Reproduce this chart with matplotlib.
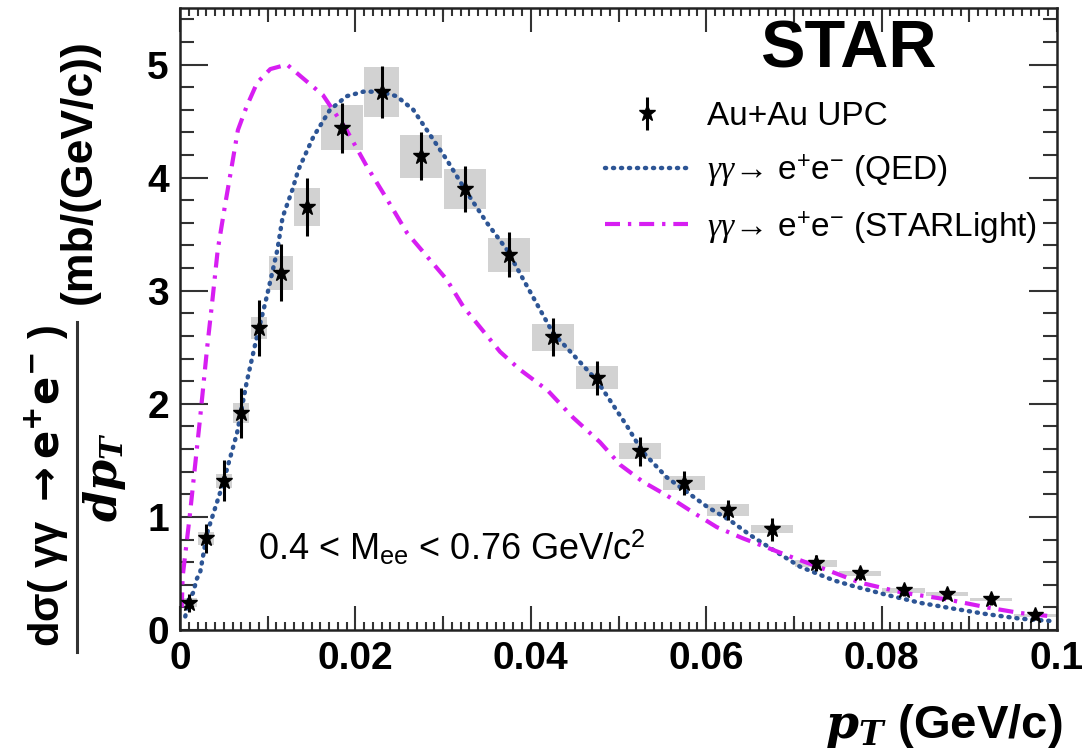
import matplotlib
matplotlib.use("Agg")
import matplotlib.pyplot as plt
from matplotlib.ticker import MultipleLocator, FixedLocator, NullFormatter
from matplotlib.lines import Line2D
import numpy as np

plt.rcParams['font.family'] = ['Liberation Sans', 'DejaVu Sans']
plt.rcParams['mathtext.fontset'] = 'custom'
plt.rcParams['mathtext.rm'] = 'Liberation Sans'
plt.rcParams['mathtext.it'] = 'Liberation Serif:italic'
plt.rcParams['mathtext.bf'] = 'Liberation Sans:bold'

# ---- data ----
pt_data = [0.001, 0.003, 0.005, 0.007, 0.009, 0.0115, 0.0145, 0.0185, 0.023,
           0.0275, 0.0325, 0.0375, 0.0425, 0.0475, 0.0525, 0.0575, 0.0625,
           0.0675, 0.0725, 0.0775, 0.0825, 0.0875, 0.0925, 0.0975]
xs_data = [0.24, 0.81, 1.32, 1.92, 2.67, 3.16, 3.74, 4.44, 4.76, 4.19, 3.90,
           3.32, 2.59, 2.23, 1.58, 1.30, 1.06, 0.89, 0.59, 0.50, 0.35, 0.32,
           0.27, 0.13]
stat_err = [0.08, 0.13, 0.18, 0.22, 0.25, 0.25, 0.26, 0.22, 0.23, 0.21, 0.20,
            0.20, 0.17, 0.15, 0.13, 0.11, 0.09, 0.10, 0.07, 0.06, 0.05, 0.05,
            0.05, 0.04]
sys_err = [0.04, 0.06, 0.06, 0.09, 0.10, 0.15, 0.17, 0.20, 0.22, 0.19, 0.18,
           0.15, 0.12, 0.10, 0.07, 0.06, 0.05, 0.035, 0.03, 0.02, 0.02, 0.02,
           0.015, 0.015]
box_halfwidth = [0.0009, 0.0009, 0.0009, 0.0009, 0.0009, 0.0014, 0.0015,
                 0.0024, 0.002, 0.0024, 0.0024, 0.0024, 0.0024, 0.0024, 0.0024,
                 0.0024, 0.0024, 0.0024, 0.0024, 0.0024, 0.0024, 0.0024,
                 0.0024, 0.0024]

qed_pt = [0.0006, 0.0010, 0.0015, 0.0019, 0.0023, 0.0031, 0.0048, 0.0065,
          0.0076, 0.0087, 0.0099, 0.0111, 0.0117, 0.0128, 0.0135, 0.0152,
          0.0171, 0.0190, 0.0209, 0.0228, 0.0247, 0.0266, 0.0285, 0.0304,
          0.0327, 0.0350, 0.0373, 0.0390, 0.0425, 0.0475, 0.0510, 0.0527,
          0.0555, 0.0578, 0.0601, 0.0627, 0.0650, 0.0676, 0.0707, 0.0745,
          0.0767, 0.0806, 0.0844, 0.0881, 0.0920, 0.0958, 0.0992]
qed_xs = [0.12, 0.27, 0.33, 0.45, 0.51, 0.86, 1.27, 1.74, 2.19, 2.57, 2.95,
          3.36, 3.65, 3.89, 4.07, 4.36, 4.60, 4.72, 4.76, 4.76, 4.72, 4.60,
          4.38, 4.16, 3.87, 3.60, 3.36, 3.12, 2.63, 2.21, 1.80, 1.58, 1.35,
          1.22, 1.09, 0.97, 0.84, 0.71, 0.56, 0.44, 0.39, 0.31, 0.24, 0.19,
          0.14, 0.10, 0.08]

sl_pt = [0.0002, 0.0003, 0.0011, 0.0017, 0.0023, 0.0031, 0.0037, 0.0043,
         0.0051, 0.0059, 0.0066, 0.0076, 0.0088, 0.0103, 0.0122, 0.0137,
         0.0163, 0.0190, 0.0213, 0.0236, 0.0259, 0.0282, 0.0304, 0.0323,
         0.0365, 0.0388, 0.0419, 0.0448, 0.0479, 0.0502, 0.0528, 0.0555,
         0.0585, 0.0612, 0.0642, 0.0669, 0.0699, 0.0738, 0.0775, 0.0824,
         0.0875, 0.0920, 0.0958, 0.0995]
sl_xs = [0.20, 0.47, 1.00, 1.44, 1.88, 2.50, 2.92, 3.36, 3.74, 4.10, 4.42,
         4.63, 4.84, 4.96, 5.00, 4.90, 4.73, 4.42, 4.10, 3.81, 3.51, 3.30,
         3.10, 2.86, 2.46, 2.30, 2.12, 1.88, 1.66, 1.46, 1.31, 1.19, 1.04,
         0.91, 0.81, 0.73, 0.64, 0.53, 0.42, 0.33, 0.27, 0.20, 0.15, 0.12]

x_ticks = [0, 0.02, 0.04, 0.06, 0.08, 0.1]
x_ticklabels = ['0', '0.02', '0.04', '0.06', '0.08', '0.1']
x_midticks = [0.01, 0.03, 0.05, 0.07, 0.09]
y_ticks = [0, 1, 2, 3, 4, 5]
y_ticklabels = ['0', '1', '2', '3', '4', '5']

W, H = 1092, 749
fig = plt.figure(figsize=(W / 100, H / 100), dpi=100)
ax = fig.add_axes([180 / W, 1 - 630 / H, 877 / W, 622 / H])

# systematic boxes
bottoms = np.array(xs_data) - np.array(sys_err)
ax.bar(pt_data, 2 * np.array(sys_err), width=2 * np.array(box_halfwidth),
       bottom=bottoms, color='#d2d2d2', edgecolor='none', zorder=1)

# curves
ax.plot(qed_pt, qed_xs, color='#2d5595', lw=3.2, ls=(0, (0.25, 1.55)),
        dash_capstyle='round', zorder=2,
        label=r'$\gamma\gamma\!\rightarrow\!$ e$^{+}$e$^{-}$ (QED)')
ax.plot(sl_pt, sl_xs, color='#d71ef2', lw=3.0, ls=(0, (3.6, 1.9, 0.8, 1.9)),
        zorder=2,
        label=r'$\gamma\gamma\!\rightarrow\!$ e$^{+}$e$^{-}$ (STARLight)')

# data
eb = ax.errorbar(pt_data, xs_data, yerr=stat_err, fmt='*', color='black',
                 ms=12, elinewidth=2.2, capsize=0, zorder=3,
                 label='Au+Au UPC')

ax.set_xlim(0, 0.1)
ax.set_ylim(0, 5.5)
ax.set_xticks(x_ticks)
ax.set_xticklabels(x_ticklabels)
ax.set_yticks(y_ticks)
ax.set_yticklabels(y_ticklabels)
ax.xaxis.set_minor_locator(MultipleLocator(0.001))
ax.yaxis.set_minor_locator(MultipleLocator(0.2))
ax.tick_params(axis='both', which='both', direction='in', top=True, right=True,
               width=1.5, color='#333333')
ax.tick_params(axis='x', which='major', length=17, pad=8)
ax.tick_params(axis='x', which='minor', length=6)
ax.tick_params(axis='y', which='major', length=20, pad=8)
ax.tick_params(axis='y', which='minor', length=10)
for lab in ax.get_xticklabels() + ax.get_yticklabels():
    lab.set_fontweight('bold')
    lab.set_fontsize(28)
for s in ax.spines.values():
    s.set_linewidth(1.8)
    s.set_color('#222222')

# medium ticks at odd 0.01 positions (bottom and top)
for loc in ('bottom', 'top'):
    sec = ax.secondary_xaxis(loc)
    sec.xaxis.set_major_locator(FixedLocator(x_midticks))
    sec.xaxis.set_major_formatter(NullFormatter())
    sec.xaxis.set_minor_locator(FixedLocator([]))
    sec.tick_params(axis='x', which='major', direction='in', length=10,
                    width=1.5, color='#333333')
    for s in sec.spines.values():
        s.set_visible(False)

# STAR label
fig.text(848 / W, 1 - 51 / H, 'STAR', fontsize=48, fontweight='bold',
         ha='center', va='center')

# annotation
fig.text(258 / W, 1 - 560 / H, r'0.4 < M$_{\mathrm{ee}}$ < 0.76 GeV/c$^{2}$',
         fontsize=26, ha='left', va='baseline')

# legend
h, l = ax.get_legend_handles_labels()
order = [l.index('Au+Au UPC'), 0, 1]
leg = ax.legend([h[i] for i in order], [l[i] for i in order],
                loc='upper left', bbox_to_anchor=(605 / W, 1 - 101 / H),
                bbox_transform=fig.transFigure, frameon=False, fontsize=24,
                handlelength=2.5, handletextpad=0.55, labelspacing=0.6,
                borderpad=0, borderaxespad=0)

# y label composite
fig.text(46 / W, 1 - 486 / H,
         r'dσ( γγ $\mathbf{\rightarrow e^{+}e^{-}}$ )',
         rotation=90, fontsize=30, fontweight='bold', ha='center', va='center',
         math_fontfamily='dejavusans')
fig.add_artist(Line2D([77 / W, 77 / W], [1 - 322 / H, 1 - 652 / H],
                      transform=fig.transFigure, color='#333333', lw=2.2))
fig.text(104 / W, 1 - 477 / H, r'$\mathbfit{dp_T}$', rotation=90, fontsize=32,
         ha='center', va='center', math_fontfamily='dejavuserif')
fig.text(79 / W, 1 - 172 / H, '(mb/(GeV/c))', rotation=90, fontsize=32,
         fontweight='bold', ha='center', va='center')

# x label
fig.text(1062 / W, 1 - 738 / H, r'$\mathbfit{p_T}$ (GeV/c)', fontsize=34,
         fontweight='bold', ha='right', va='baseline', math_fontfamily='dejavuserif')

fig.savefig('out.png', dpi=100)
